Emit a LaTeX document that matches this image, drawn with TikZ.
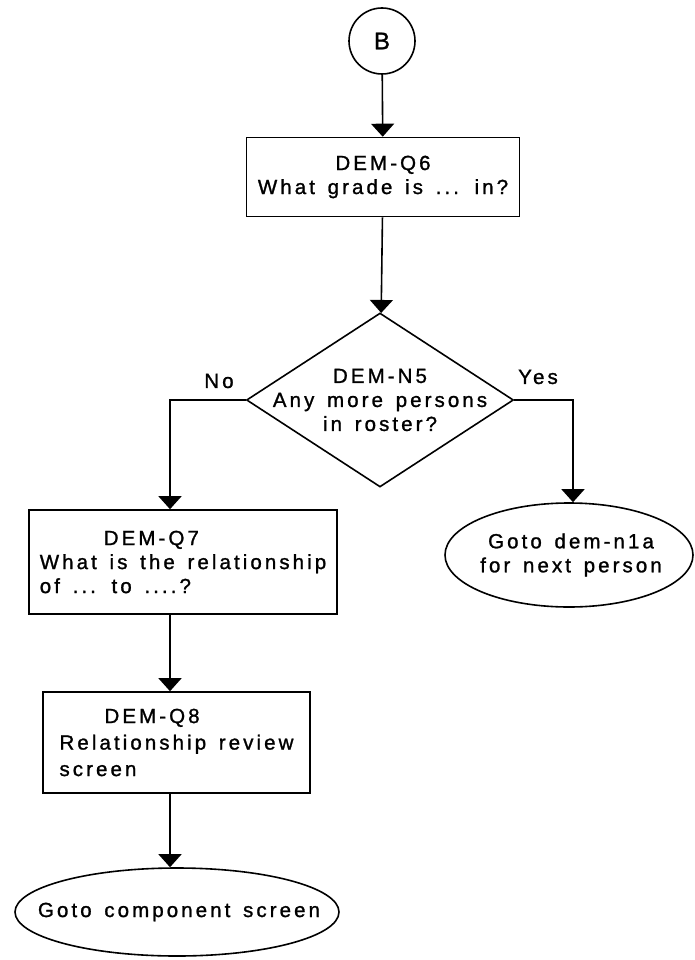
\documentclass[tikz,border=0pt]{standalone}
\usepackage{fontspec}
\usetikzlibrary{arrows.meta,shapes.geometric}
\newfontfamily\flowfamily[LetterSpace=15,FakeBold=1.2,WordSpace=1.45]{Liberation Sans}
\newcommand{\flowfont}{\flowfamily\fontsize{20.5}{24}\selectfont}

\begin{document}
\begin{tikzpicture}[x=1pt,y=-1pt,line width=1.6pt,
  flow/.style={-{Triangle[length=13pt,width=23pt]}},
  box/.style={draw,rectangle,inner sep=0pt,font=\flowfont},
  term/.style={draw,ellipse,inner sep=0pt},
  lbl/.style={inner sep=0pt,font=\flowfont,align=center}]
\useasboundingbox (0,0) rectangle (694,960);
% ================= entry connector and DEM-Q6 =================
\node[draw,circle,minimum size=66pt,inner sep=0pt,
  font=\flowfamily\fontsize{24}{28}\selectfont] (B) at (382,41) {B};
\node[box,minimum width=273pt,minimum height=79pt,align=center] (q6) at (383,177)
  {DEM-Q6\\What grade is ... in?};
% ================= decision DEM-N5 =================
\node[draw,diamond,inner sep=0pt,minimum width=267pt,minimum height=174pt,
  label={[lbl]center:DEM-N5\\Any more persons\\in roster?}] (n5) at (380,400) {};
\node[lbl] (lblno) at (219,381) {No};
\node[lbl] (lblyes) at (538,377) {Yes};
% ================= No branch =================
\node[box,minimum width=308pt,minimum height=104pt,align=left] (q7) at (183,562)
  {\hspace*{64pt}DEM-Q7\\What is the relationship\\of ... to ....?};
\node[box,minimum width=267pt,minimum height=101pt,align=left,
  font=\flowfamily\fontsize{20.5}{26.5}\selectfont] (q8) at (176.5,742.5)
  {\hspace*{45pt}DEM-Q8\\Relationship review\\screen};
\node[term,minimum width=324pt,minimum height=88pt,
  label={[lbl,xshift=2pt]center:Goto component screen}] (done) at (177,912) {};
% ================= Yes branch =================
\node[term,minimum width=248pt,minimum height=104pt,
  label={[lbl,xshift=2pt]center:Goto dem-n1a\\for next person}] (next) at (569,555) {};
% connectors
\draw[flow] (B) -- (q6);
\draw[flow] (q6) -- (n5);
\draw[flow] (n5.west) -| ([xshift=-13pt]q7.north);
\draw[flow] ([xshift=-13pt]q7.south) -- ([xshift=-6.5pt]q8.north);
\draw[flow] ([xshift=-6.5pt]q8.south) -- ([xshift=-7pt]done.north);
\draw[flow] (n5.east) -| ([xshift=4pt]next.north);
\end{tikzpicture}
\end{document}
